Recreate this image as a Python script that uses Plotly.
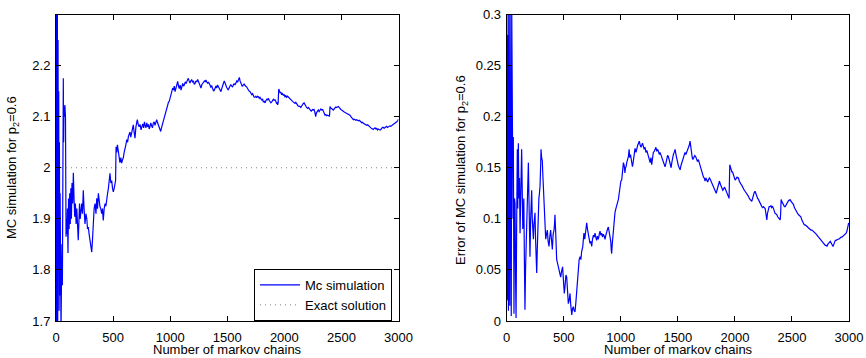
import plotly.graph_objects as go

# ---------------- data ----------------
mc_chains = [1, 3, 6, 9, 12, 15, 18, 21, 24, 27, 30, 33, 36, 40, 44, 48, 52, 56, 60, 64, 67, 70, 74, 78, 83, 86, 88, 92, 96, 100,
             105, 110, 115, 120, 125, 130, 135, 140, 146, 152, 158, 164, 170, 176, 182, 188, 195, 200, 206, 212, 218, 225, 232, 239, 246, 254, 262, 270, 276, 283,
             290, 298, 305, 313, 320, 327, 334, 342, 350, 357, 364, 371, 378, 385, 392, 400, 407, 414, 422, 430, 437, 444, 452, 459, 466, 473, 480, 488, 495, 502,
             510, 517, 522, 526, 532, 538, 546, 553, 560, 568, 575, 582, 590, 597, 604, 612, 620, 627, 634, 641, 648, 655, 663, 670, 677, 684, 692, 700, 706, 712,
             720, 728, 736, 745, 752, 760, 768, 775, 780, 788, 795, 803, 810, 816, 823, 830, 838, 845, 852, 860, 867, 875, 882, 890, 898, 905, 911, 917, 924, 932,
             940, 947, 955, 962, 970, 978, 985, 992, 999, 1007, 1015, 1022, 1030, 1036, 1043, 1050, 1058, 1066, 1073, 1080, 1088, 1095, 1102, 1110, 1117, 1124, 1132, 1140, 1148, 1159,
             1166, 1174, 1181, 1189, 1196, 1204, 1211, 1218, 1226, 1233, 1241, 1248, 1255, 1262, 1270, 1278, 1285, 1292, 1300, 1307, 1314, 1321, 1328, 1335, 1342, 1349, 1356, 1364, 1372, 1380,
             1387, 1394, 1401, 1408, 1415, 1422, 1430, 1437, 1445, 1452, 1459, 1466, 1474, 1481, 1488, 1495, 1502, 1509, 1516, 1524, 1531, 1539, 1546, 1553, 1560, 1568, 1576, 1584, 1592, 1599,
             1606, 1612, 1619, 1626, 1632, 1640, 1648, 1656, 1663, 1671, 1678, 1685, 1692, 1700, 1708, 1715, 1722, 1729, 1736, 1743, 1750, 1758, 1765, 1773, 1780, 1787, 1795, 1802, 1809, 1816,
             1824, 1831, 1838, 1845, 1852, 1860, 1867, 1874, 1882, 1890, 1897, 1904, 1911, 1918, 1925, 1932, 1938, 1942, 1946, 1951, 1958, 1964, 1970, 1977, 1984, 1991, 1998, 2006, 2013, 2020,
             2028, 2035, 2042, 2050, 2057, 2064, 2072, 2079, 2086, 2093, 2100, 2107, 2114, 2121, 2129, 2136, 2144, 2151, 2158, 2166, 2173, 2180, 2188, 2195, 2205, 2212, 2220, 2228, 2235, 2240,
             2247, 2254, 2260, 2266, 2270, 2275, 2280, 2288, 2298, 2305, 2313, 2320, 2328, 2336, 2343, 2350, 2356, 2363, 2370, 2378, 2386, 2394, 2397, 2400, 2407, 2414, 2422, 2429, 2436, 2444,
             2451, 2458, 2466, 2473, 2480, 2488, 2495, 2502, 2510, 2518, 2525, 2532, 2540, 2548, 2556, 2563, 2570, 2575, 2583, 2590, 2598, 2605, 2612, 2619, 2627, 2634, 2641, 2648, 2656, 2663,
             2670, 2678, 2685, 2692, 2700, 2707, 2714, 2722, 2730, 2737, 2744, 2751, 2758, 2765, 2772, 2779, 2787, 2794, 2802, 2809, 2816, 2823, 2830, 2838, 2845, 2852, 2860, 2867, 2874, 2882,
             2889, 2896, 2904, 2911, 2918, 2925, 2933, 2940, 2947, 2955, 2962, 2970, 2977, 2985, 2992, 3000]
mc_values = [2.9, 1.55, 2.5, 1.75, 2.35, 1.68, 2.25, 1.8, 2.15, 1.72, 2.05, 1.75, 1.95, 1.72, 1.68, 1.78, 1.85, 1.77, 1.98, 2.175, 2.05, 2.12, 2.1, 2.123, 2.1, 1.96, 1.865, 1.9, 1.87, 1.92,
             1.833, 1.94, 1.88, 1.95, 1.89, 1.96, 1.9, 1.97, 1.93, 1.99, 1.94, 1.904, 1.93, 1.89, 1.92, 1.9, 1.858, 1.89, 1.93, 1.9, 1.92, 1.93, 1.91, 1.956, 1.92, 1.89, 1.91, 1.9, 1.88, 1.884,
             1.87, 1.858, 1.84, 1.835, 1.86, 1.911, 1.92, 1.93, 1.91, 1.94, 1.92, 1.95, 1.93, 1.924, 1.92, 1.91, 1.92, 1.897, 1.92, 1.93, 1.925, 1.943, 1.95, 1.96, 1.97, 1.989, 1.97, 1.975, 1.96, 1.953,
             1.96, 1.97, 1.975, 2.041, 2.03, 2.045, 2.035, 2.02, 2.01, 2.02, 2.009, 2.015, 2.02, 2.03, 2.035, 2.045, 2.055, 2.05, 2.061, 2.065, 2.07, 2.06, 2.067, 2.075, 2.084, 2.07, 2.058, 2.08, 2.09, 2.094,
             2.085, 2.08, 2.085, 2.074, 2.08, 2.086, 2.078, 2.09, 2.084, 2.078, 2.088, 2.08, 2.085, 2.076, 2.08, 2.088, 2.082, 2.078, 2.087, 2.09, 2.083, 2.088, 2.094, 2.088, 2.084, 2.08, 2.075, 2.071, 2.078, 2.085,
             2.087, 2.095, 2.105, 2.11, 2.116, 2.12, 2.128, 2.13, 2.136, 2.145, 2.15, 2.156, 2.152, 2.16, 2.149, 2.155, 2.16, 2.169, 2.16, 2.155, 2.162, 2.152, 2.158, 2.165, 2.16, 2.162, 2.168, 2.165, 2.17, 2.175,
             2.17, 2.166, 2.17, 2.172, 2.168, 2.17, 2.163, 2.165, 2.17, 2.168, 2.173, 2.168, 2.165, 2.16, 2.156, 2.163, 2.165, 2.168, 2.17, 2.168, 2.172, 2.168, 2.165, 2.168, 2.163, 2.162, 2.158, 2.16, 2.155, 2.15,
             2.152, 2.156, 2.16, 2.156, 2.162, 2.159, 2.155, 2.152, 2.149, 2.155, 2.162, 2.165, 2.17, 2.165, 2.16, 2.157, 2.155, 2.152, 2.156, 2.16, 2.163, 2.16, 2.158, 2.162, 2.165, 2.162, 2.166, 2.17, 2.168, 2.172,
             2.177, 2.17, 2.165, 2.162, 2.159, 2.162, 2.164, 2.161, 2.16, 2.158, 2.155, 2.152, 2.15, 2.149, 2.146, 2.143, 2.145, 2.14, 2.138, 2.138, 2.14, 2.137, 2.14, 2.139, 2.136, 2.138, 2.134, 2.132, 2.135, 2.129,
             2.13, 2.127, 2.131, 2.134, 2.133, 2.136, 2.132, 2.13, 2.127, 2.129, 2.131, 2.134, 2.132, 2.133, 2.13, 2.126, 2.127, 2.123, 2.128, 2.154, 2.15, 2.146, 2.148, 2.143, 2.145, 2.142, 2.143, 2.139, 2.141, 2.138,
             2.14, 2.138, 2.137, 2.136, 2.134, 2.132, 2.13, 2.129, 2.127, 2.126, 2.128, 2.125, 2.123, 2.121, 2.12, 2.12, 2.118, 2.121, 2.124, 2.126, 2.127, 2.123, 2.12, 2.118, 2.116, 2.118, 2.115, 2.113, 2.111, 2.112,
             2.114, 2.113, 2.114, 2.11, 2.104, 2.1, 2.107, 2.111, 2.113, 2.11, 2.112, 2.115, 2.113, 2.114, 2.11, 2.106, 2.103, 2.104, 2.102, 2.103, 2.101, 2.101, 2.105, 2.12, 2.117, 2.115, 2.113, 2.113, 2.115, 2.117,
             2.119, 2.118, 2.12, 2.12, 2.118, 2.115, 2.114, 2.113, 2.111, 2.111, 2.109, 2.108, 2.107, 2.106, 2.105, 2.104, 2.104, 2.103, 2.1, 2.098, 2.096, 2.094, 2.095, 2.094, 2.093, 2.094, 2.092, 2.092, 2.093, 2.092,
             2.09, 2.088, 2.089, 2.087, 2.086, 2.086, 2.085, 2.083, 2.084, 2.082, 2.082, 2.08, 2.078, 2.077, 2.075, 2.075, 2.077, 2.078, 2.076, 2.077, 2.074, 2.076, 2.075, 2.074, 2.075, 2.078, 2.079, 2.079, 2.077, 2.079,
             2.08, 2.081, 2.079, 2.08, 2.081, 2.082, 2.081, 2.083, 2.084, 2.085, 2.086, 2.087, 2.089, 2.09, 2.092, 2.095]

exact_chains = [0, 3000]
exact_values = [2.0, 2.0]

err_chains = [1, 3, 6, 9, 12, 15, 18, 21, 24, 27, 30, 33, 36, 40, 44, 48, 51, 55, 58, 61, 64, 68, 73, 78, 82, 87, 93, 97, 102, 107,
              112, 117, 122, 126, 131, 136, 141, 146, 150, 155, 160, 165, 170, 175, 180, 185, 190, 195, 200, 204, 210, 215, 219, 224, 229, 234, 239, 244, 248, 253,
              258, 263, 268, 272, 277, 282, 287, 292, 297, 301, 306, 312, 318, 324, 330, 336, 342, 349, 356, 363, 371, 378, 385, 392, 400, 407, 415, 419, 423, 430,
              434, 438, 445, 453, 460, 467, 473, 480, 485, 490, 497, 505, 512, 519, 526, 533, 540, 547, 555, 562, 570, 577, 584, 591, 599, 606, 614, 620, 628, 635,
              643, 650, 657, 667, 672, 677, 684, 690, 696, 701, 708, 716, 724, 730, 738, 745, 752, 760, 767, 774, 781, 788, 795, 803, 810, 818, 825, 832, 840, 847,
              855, 862, 869, 876, 884, 891, 898, 905, 912, 916, 920, 925, 932, 940, 949, 957, 964, 971, 979, 986, 994, 1001, 1008, 1015, 1023, 1030, 1036, 1041, 1046, 1052,
              1060, 1067, 1073, 1078, 1085, 1093, 1102, 1108, 1115, 1120, 1125, 1133, 1140, 1148, 1155, 1162, 1170, 1177, 1184, 1190, 1198, 1205, 1213, 1220, 1228, 1235, 1242, 1250, 1257, 1264,
              1271, 1278, 1285, 1293, 1300, 1308, 1315, 1322, 1330, 1337, 1344, 1352, 1359, 1366, 1374, 1381, 1388, 1395, 1403, 1410, 1417, 1424, 1430, 1436, 1441, 1447, 1454, 1461, 1468, 1476,
              1483, 1490, 1498, 1505, 1512, 1520, 1527, 1534, 1541, 1549, 1556, 1563, 1570, 1578, 1585, 1592, 1600, 1607, 1613, 1620, 1626, 1632, 1640, 1648, 1656, 1664, 1672, 1680, 1687, 1694,
              1702, 1710, 1717, 1724, 1731, 1739, 1746, 1754, 1761, 1768, 1776, 1783, 1790, 1798, 1805, 1812, 1821, 1828, 1836, 1843, 1850, 1858, 1865, 1872, 1880, 1887, 1894, 1901, 1908, 1914,
              1921, 1928, 1934, 1940, 1946, 1949, 1955, 1961, 1967, 1973, 1979, 1986, 1993, 2002, 2010, 2017, 2024, 2031, 2038, 2045, 2053, 2060, 2067, 2075, 2082, 2089, 2096, 2104, 2111, 2119,
              2126, 2133, 2140, 2148, 2155, 2162, 2170, 2177, 2184, 2191, 2199, 2206, 2213, 2221, 2228, 2236, 2243, 2250, 2258, 2265, 2272, 2276, 2280, 2285, 2292, 2300, 2309, 2316, 2323, 2331,
              2338, 2346, 2353, 2360, 2368, 2375, 2383, 2390, 2397, 2401, 2405, 2412, 2420, 2427, 2434, 2441, 2449, 2456, 2463, 2471, 2478, 2485, 2492, 2500, 2507, 2514, 2521, 2529, 2536, 2543,
              2551, 2558, 2565, 2572, 2578, 2586, 2593, 2601, 2608, 2616, 2623, 2630, 2638, 2645, 2652, 2660, 2667, 2675, 2682, 2690, 2697, 2704, 2712, 2719, 2726, 2734, 2741, 2748, 2755, 2762,
              2770, 2777, 2785, 2792, 2800, 2807, 2814, 2821, 2828, 2836, 2843, 2850, 2856, 2860, 2867, 2873, 2880, 2887, 2895, 2902, 2910, 2917, 2924, 2931, 2938, 2946, 2953, 2960, 2968, 2975,
              2982, 2990, 2997]
err_values = [0.6, 0.02, 0.32, 0.03, 0.28, 0.01, 0.3, 0.02, 0.25, 0.015, 0.3, 0.05, 0.22, 0.005, 0.31, 0.2, 0.255, 0.1, 0.18, 0.05, 0.007, 0.12, 0.115, 0.04, 0.003, 0.09, 0.168, 0.11, 0.174, 0.12,
              0.14, 0.086, 0.12, 0.14, 0.168, 0.13, 0.09, 0.108, 0.12, 0.06, 0.011, 0.05, 0.07, 0.086, 0.11, 0.13, 0.155, 0.12, 0.09, 0.063, 0.1, 0.11, 0.128, 0.1, 0.09, 0.08, 0.095, 0.1, 0.106, 0.08,
              0.06, 0.047, 0.07, 0.09, 0.112, 0.12, 0.125, 0.132, 0.15, 0.168, 0.16, 0.157, 0.14, 0.125, 0.112, 0.095, 0.08, 0.085, 0.089, 0.078, 0.073, 0.083, 0.089, 0.08, 0.07, 0.085, 0.089, 0.095, 0.104, 0.085,
              0.07, 0.06, 0.057, 0.053, 0.05, 0.047, 0.043, 0.048, 0.05, 0.053, 0.04, 0.027, 0.035, 0.045, 0.043, 0.03, 0.017, 0.02, 0.027, 0.015, 0.006, 0.012, 0.014, 0.01, 0.009, 0.018, 0.03, 0.045, 0.057, 0.06,
              0.063, 0.06, 0.068, 0.073, 0.08, 0.086, 0.08, 0.088, 0.092, 0.096, 0.09, 0.085, 0.08, 0.076, 0.078, 0.073, 0.08, 0.084, 0.082, 0.086, 0.082, 0.079, 0.083, 0.08, 0.084, 0.088, 0.084, 0.086, 0.082, 0.085,
              0.083, 0.08, 0.084, 0.088, 0.09, 0.092, 0.088, 0.085, 0.078, 0.07, 0.066, 0.075, 0.085, 0.095, 0.106, 0.11, 0.113, 0.117, 0.119, 0.125, 0.133, 0.137, 0.138, 0.146, 0.155, 0.152, 0.145, 0.15, 0.151, 0.155,
              0.158, 0.161, 0.168, 0.16, 0.163, 0.155, 0.151, 0.155, 0.16, 0.165, 0.169, 0.165, 0.17, 0.172, 0.174, 0.176, 0.172, 0.17, 0.172, 0.174, 0.171, 0.168, 0.17, 0.165, 0.167, 0.163, 0.161, 0.158, 0.155, 0.16,
              0.153, 0.16, 0.165, 0.166, 0.168, 0.17, 0.166, 0.168, 0.166, 0.163, 0.165, 0.162, 0.16, 0.158, 0.155, 0.152, 0.151, 0.154, 0.158, 0.162, 0.161, 0.158, 0.155, 0.152, 0.15, 0.155, 0.16, 0.163, 0.165, 0.168,
              0.163, 0.158, 0.155, 0.152, 0.15, 0.148, 0.152, 0.155, 0.158, 0.16, 0.163, 0.165, 0.163, 0.165, 0.168, 0.17, 0.172, 0.176, 0.17, 0.165, 0.16, 0.158, 0.16, 0.162, 0.161, 0.158, 0.156, 0.158, 0.155, 0.152,
              0.148, 0.145, 0.143, 0.141, 0.14, 0.137, 0.14, 0.138, 0.136, 0.138, 0.14, 0.139, 0.137, 0.135, 0.133, 0.132, 0.13, 0.127, 0.125, 0.128, 0.132, 0.135, 0.137, 0.134, 0.131, 0.13, 0.128, 0.129, 0.131, 0.13,
              0.128, 0.126, 0.124, 0.123, 0.121, 0.12, 0.153, 0.15, 0.148, 0.146, 0.146, 0.143, 0.14, 0.138, 0.139, 0.141, 0.14, 0.14, 0.137, 0.135, 0.134, 0.133, 0.131, 0.129, 0.128, 0.127, 0.126, 0.124, 0.123, 0.122,
              0.12, 0.119, 0.118, 0.117, 0.12, 0.124, 0.126, 0.127, 0.124, 0.122, 0.12, 0.119, 0.117, 0.115, 0.113, 0.112, 0.111, 0.112, 0.111, 0.11, 0.105, 0.1, 0.099, 0.105, 0.11, 0.112, 0.112, 0.113, 0.111, 0.112,
              0.11, 0.107, 0.105, 0.105, 0.104, 0.102, 0.101, 0.1, 0.099, 0.105, 0.119, 0.117, 0.115, 0.113, 0.112, 0.112, 0.114, 0.116, 0.117, 0.118, 0.118, 0.119, 0.117, 0.116, 0.115, 0.114, 0.111, 0.109, 0.107, 0.106,
              0.105, 0.104, 0.103, 0.103, 0.102, 0.099, 0.097, 0.095, 0.094, 0.094, 0.093, 0.092, 0.092, 0.091, 0.09, 0.09, 0.089, 0.089, 0.088, 0.087, 0.086, 0.086, 0.085, 0.084, 0.083, 0.083, 0.082, 0.081, 0.079, 0.078,
              0.077, 0.076, 0.075, 0.074, 0.074, 0.073, 0.075, 0.077, 0.077, 0.078, 0.076, 0.074, 0.073, 0.073, 0.075, 0.077, 0.079, 0.079, 0.08, 0.08, 0.08, 0.081, 0.081, 0.082, 0.082, 0.083, 0.083, 0.084, 0.085, 0.086,
              0.088, 0.091, 0.096]

x_ticks = [0, 500, 1000, 1500, 2000, 2500, 3000]
mc_ticks = [1.7, 1.8, 1.9, 2.0, 2.1, 2.2]
mc_tick_labels = ["1.7", "1.8", "1.9", "2", "2.1", "2.2"]
err_ticks = [0, 0.05, 0.1, 0.15, 0.2, 0.25, 0.3]
err_tick_labels = ["0", "0.05", "0.1", "0.15", "0.2", "0.25", "0.3"]

# ---------------- figure ----------------
FONT = "Arial, Liberation Sans, Helvetica, sans-serif"
FS = 13
BLUE = "#0000ff"

fig = go.Figure()
fig.add_trace(go.Scatter(x=mc_chains, y=mc_values, mode="lines", name="Mc simulation",
                         line=dict(color=BLUE, width=1.2), xaxis="x", yaxis="y"))
fig.add_trace(go.Scatter(x=exact_chains, y=exact_values, mode="lines", name="Exact solution",
                         line=dict(color="#808080", width=1, dash="1px,4px"), xaxis="x", yaxis="y"))
fig.add_trace(go.Scatter(x=err_chains, y=err_values, mode="lines", showlegend=False,
                         line=dict(color=BLUE, width=1.2), xaxis="x2", yaxis="y2"))

axis_common = dict(showline=True, linecolor="black", linewidth=1, mirror="ticks",
                   ticks="inside", ticklen=5, tickcolor="black", tickwidth=1,
                   showgrid=False, zeroline=False, automargin=False,
                   tickfont=dict(family=FONT, size=FS, color="black"))

Y_DOM = [1 - 321 / 358, 1 - 14.5 / 358]
ann_font = dict(family=FONT, size=FS, color="black")
fig.update_layout(
    width=866, height=358,
    margin=dict(l=0, r=0, t=0, b=0, pad=0),
    paper_bgcolor="white", plot_bgcolor="white",
    font=dict(family=FONT, size=FS, color="black"),
    xaxis=dict(domain=[56 / 866, 398.5 / 866], range=[0, 3000], tickvals=x_ticks, anchor="y",
               ticklabelstandoff=4, **axis_common),
    yaxis=dict(domain=Y_DOM, range=[1.7, 2.3], tickvals=mc_ticks, ticktext=mc_tick_labels, anchor="x",
               ticklabelstandoff=2, **axis_common),
    xaxis2=dict(domain=[506.7 / 866, 849 / 866], range=[0, 3000], tickvals=x_ticks, anchor="y2",
                ticklabelstandoff=4, **axis_common),
    yaxis2=dict(domain=Y_DOM, range=[0, 0.3], tickvals=err_ticks, ticktext=err_tick_labels, anchor="x2",
                ticklabelstandoff=2, **axis_common),
    legend=dict(x=392 / 866, y=1 - 321 / 358, xanchor="right", yanchor="bottom",
                bgcolor="white", bordercolor="black", borderwidth=1,
                font=dict(family=FONT, size=FS, color="black"),
                tracegroupgap=0, itemwidth=40),
    showlegend=True,
    annotations=[
        dict(text="MC simulation for p<sub>2</sub>=0.6", x=13 / 866, y=1 - 168 / 358, xref="paper", yref="paper",
             xanchor="center", yanchor="middle", textangle=-90, showarrow=False, font=ann_font),
        dict(text="Error of MC simulation for p<sub>2</sub>=0.6", x=461 / 866, y=1 - 170 / 358, xref="paper", yref="paper",
             xanchor="center", yanchor="middle", textangle=-90, showarrow=False, font=ann_font),
        dict(text="Number of markov chains", x=227 / 866, y=1 - 349 / 358, xref="paper", yref="paper",
             xanchor="center", yanchor="middle", showarrow=False, font=ann_font),
        dict(text="Number of markov chains", x=678 / 866, y=1 - 349 / 358, xref="paper", yref="paper",
             xanchor="center", yanchor="middle", showarrow=False, font=ann_font),
    ],
)

fig.write_html("out.html", config={"displayModeBar": False},
               post_script="document.body.style.margin='0';document.body.style.overflow='hidden';")
